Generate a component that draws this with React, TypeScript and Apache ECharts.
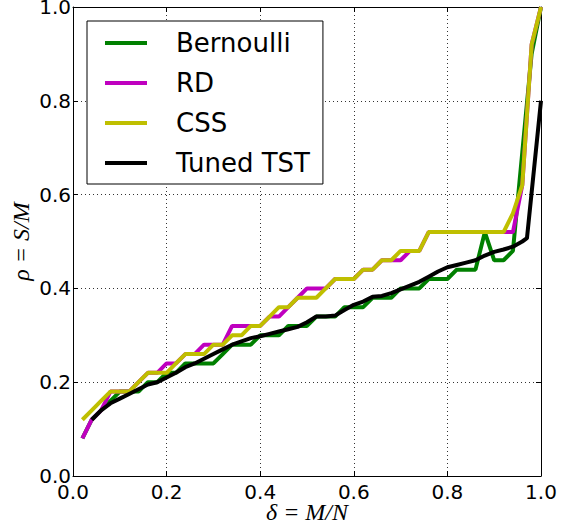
import React, { useEffect, useRef } from "react";
import * as echarts from "echarts";

const delta = [
  0.02, 0.04, 0.06, 0.08, 0.1, 0.12, 0.14, 0.16, 0.18, 0.2,
  0.22, 0.24, 0.26, 0.28, 0.3, 0.32, 0.34, 0.36, 0.38, 0.4,
  0.42, 0.44, 0.46, 0.48, 0.5, 0.52, 0.54, 0.56, 0.58, 0.6,
  0.62, 0.64, 0.66, 0.68, 0.7, 0.72, 0.74, 0.76, 0.78, 0.8,
  0.82, 0.84, 0.86, 0.88, 0.9, 0.92, 0.94, 0.96, 0.98, 1.0,
];

const bernoulli = [
  0.08, 0.12, 0.14, 0.16, 0.18, 0.18, 0.18, 0.2, 0.2, 0.22,
  0.22, 0.24, 0.24, 0.24, 0.24, 0.26, 0.28, 0.28, 0.28, 0.3,
  0.3, 0.3, 0.32, 0.32, 0.32, 0.34, 0.34, 0.34, 0.36, 0.36,
  0.36, 0.38, 0.38, 0.38, 0.4, 0.4, 0.4, 0.42, 0.42, 0.42,
  0.44, 0.44, 0.44, 0.52, 0.46, 0.46, 0.48, 0.69, 0.9, 1.0,
];

const rd = [
  0.08, 0.12, 0.14, 0.18, 0.18, 0.18, 0.2, 0.22, 0.22, 0.24,
  0.24, 0.26, 0.26, 0.28, 0.28, 0.28, 0.32, 0.32, 0.32, 0.32,
  0.34, 0.34, 0.36, 0.38, 0.4, 0.4, 0.4, 0.42, 0.42, 0.42,
  0.44, 0.44, 0.46, 0.46, 0.46, 0.48, 0.48, 0.52, 0.52, 0.52,
  0.52, 0.52, 0.52, 0.52, 0.52, 0.52, 0.52, 0.62, 0.92, 1.0,
];

const css = [
  0.12, 0.14, 0.16, 0.18, 0.18, 0.18, 0.2, 0.22, 0.22, 0.22,
  0.24, 0.26, 0.26, 0.26, 0.28, 0.28, 0.3, 0.3, 0.32, 0.32,
  0.34, 0.36, 0.36, 0.38, 0.38, 0.38, 0.4, 0.42, 0.42, 0.42,
  0.44, 0.44, 0.46, 0.46, 0.48, 0.48, 0.48, 0.52, 0.52, 0.52,
  0.52, 0.52, 0.52, 0.52, 0.52, 0.52, 0.56, 0.62, 0.92, 1.0,
];

const tstDelta = [
  0.04, 0.06, 0.08, 0.1, 0.12, 0.14, 0.16, 0.18, 0.2, 0.22,
  0.24, 0.26, 0.28, 0.3, 0.32, 0.34, 0.36, 0.38, 0.4, 0.42,
  0.44, 0.46, 0.48, 0.5, 0.52, 0.54, 0.56, 0.58, 0.6, 0.62,
  0.64, 0.66, 0.68, 0.7, 0.72, 0.74, 0.76, 0.78, 0.8, 0.82,
  0.84, 0.86, 0.88, 0.9, 0.92, 0.94, 0.96, 0.97, 1.0,
];

const tunedTst = [
  0.12, 0.14, 0.155, 0.165, 0.175, 0.185, 0.195, 0.2, 0.21, 0.22,
  0.232, 0.24, 0.25, 0.26, 0.27, 0.28, 0.287, 0.294, 0.298, 0.303,
  0.308, 0.313, 0.318, 0.328, 0.34, 0.34, 0.342, 0.354, 0.365, 0.372,
  0.382, 0.384, 0.39, 0.398, 0.406, 0.414, 0.425, 0.436, 0.445, 0.45,
  0.455, 0.46, 0.47, 0.478, 0.483, 0.489, 0.5, 0.507, 0.8,
];

const seriesNames = ["Bernoulli", "RD", "CSS", "Tuned TST"];
const seriesColors = ["#008000", "#bf00bf", "#bfbf00", "#000000"];

const FONT = "DejaVu Sans";

export default function App() {
  const ref = useRef<HTMLDivElement>(null);

  useEffect(() => {
    const chart = echarts.init(ref.current!, null, { renderer: "svg" });
    const pair = (xs: number[], ys: number[]) => xs.map((x, i) => [x, ys[i]]);
    const datasets = [
      pair(delta, bernoulli),
      pair(delta, rd),
      pair(delta, css),
      pair(tstDelta, tunedTst),
    ];

    const gridLine = {
      show: true,
      lineStyle: { color: "#000", width: 1, type: [1, 3] as any, opacity: 0.8 },
    };
    const tick = { show: true, inside: true, length: 5, lineStyle: { color: "#000", width: 1 } };
    const axisLine = { show: true, onZero: false, lineStyle: { color: "#000", width: 1 } };

    chart.setOption({
      animation: false,
      backgroundColor: "#fff",
      grid: {
        left: 73,
        right: 20,
        top: 7,
        bottom: 52,
        containLabel: false,
        outerBoundsMode: "none",
      } as any,
      legend: {
        orient: "vertical",
        left: 87,
        top: 21,
        data: seriesNames,
        icon: "rect",
        itemWidth: 42,
        itemHeight: 4,
        itemGap: 10,
        padding: [7, 13, 6, 18],
        borderColor: "#000",
        borderWidth: 1,
        backgroundColor: "#fff",
        selectedMode: false,
        textStyle: {
          fontFamily: FONT,
          fontSize: 26,
          color: "#000",
          lineHeight: 30,
          padding: [0, 0, 0, 24],
        },
      },
      xAxis: [
        {
          type: "value",
          min: 0,
          max: 1,
          interval: 0.2,
          position: "bottom",
          axisLine,
          axisTick: tick,
          splitLine: gridLine,
          axisLabel: {
            fontFamily: FONT,
            fontSize: 20,
            color: "#000",
            margin: 6,
            showMinLabel: true,
            showMaxLabel: true,
            formatter: (v: number) => v.toFixed(1),
          },
          name: "δ = M/N",
          nameLocation: "middle",
          nameGap: 24,
          nameMoveOverlap: false,
          nameTextStyle: {
            fontFamily: "Liberation Serif",
            fontStyle: "italic",
            fontSize: 24,
            color: "#000",
          },
        } as any,
        {
          type: "value",
          min: 0,
          max: 1,
          interval: 0.2,
          position: "top",
          axisLine,
          axisTick: tick,
          splitLine: { show: false },
          axisLabel: { show: false },
        },
      ],
      yAxis: [
        {
          type: "value",
          min: 0,
          max: 1,
          interval: 0.2,
          position: "left",
          axisLine,
          axisTick: tick,
          splitLine: gridLine,
          axisLabel: {
            fontFamily: FONT,
            fontSize: 20,
            color: "#000",
            margin: 2,
            showMinLabel: true,
            showMaxLabel: true,
            formatter: (v: number) => v.toFixed(1),
          },
          name: "ρ = S/M",
          nameLocation: "middle",
          nameGap: 40,
          nameMoveOverlap: false,
          nameTextStyle: {
            fontFamily: "Liberation Serif",
            fontStyle: "italic",
            fontSize: 24,
            color: "#000",
          },
        } as any,
        {
          type: "value",
          min: 0,
          max: 1,
          interval: 0.2,
          position: "right",
          axisLine,
          axisTick: tick,
          splitLine: { show: false },
          axisLabel: { show: false },
        },
      ],
      series: seriesNames.map((name, i) => ({
        name,
        type: "line",
        xAxisIndex: 0,
        yAxisIndex: 0,
        data: datasets[i],
        showSymbol: false,
        symbol: "none",
        color: seriesColors[i],
        lineStyle: { color: seriesColors[i], width: 4 },
        itemStyle: { color: seriesColors[i] },
        z: 2 + i,
      })),
    });

    return () => chart.dispose();
  }, []);

  return (
    <div
      ref={ref}
      style={{
        position: "fixed",
        left: 0,
        top: 0,
        width: 561,
        height: 528,
        background: "#fff",
      }}
    />
  );
}
